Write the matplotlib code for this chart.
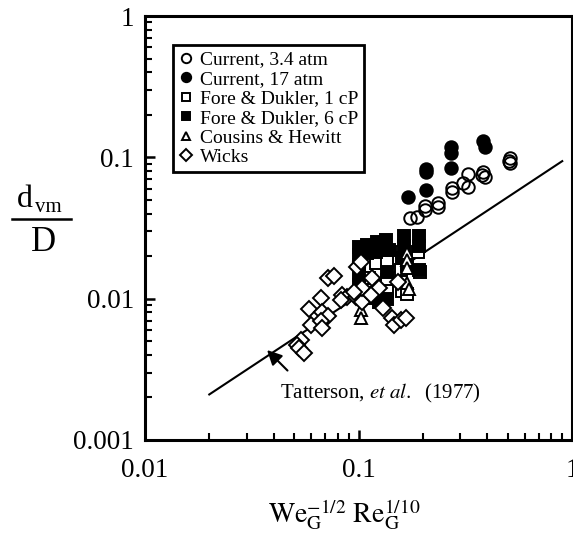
import matplotlib
matplotlib.use("Agg")
import matplotlib.pyplot as plt

plt.rcParams["font.family"] = ["Liberation Serif", "DejaVu Serif"]
plt.rcParams["mathtext.fontset"] = "stix"

# Current, 3.4 atm (open circles)
cur34_x = [0.174, 0.1875, 0.204, 0.204, 0.235, 0.235, 0.273, 0.273, 0.310,
           0.327, 0.327, 0.380, 0.393, 0.385, 0.514, 0.514, 0.505]
cur34_y = [0.0372, 0.0378, 0.0452, 0.0424, 0.0475, 0.0445, 0.0568, 0.0607, 0.0658,
           0.0762, 0.0616, 0.0749, 0.0726, 0.0787, 0.0989, 0.0912, 0.094]

# Current, 17 atm (filled circles)
cur17_x = [0.170, 0.208, 0.208, 0.208, 0.272, 0.272, 0.270, 0.385, 0.390]
cur17_y = [0.0524, 0.0826, 0.0787, 0.0587, 0.118, 0.107, 0.084, 0.130, 0.118]

# Fore & Dukler, 1 cP (open squares)
fd1_x = [0.121, 0.136, 0.136, 0.136, 0.121, 0.158, 0.160, 0.168, 0.195, 0.160, 0.189, 0.112]
fd1_y = [0.0179, 0.0182, 0.0135, 0.0113, 0.0110, 0.0159, 0.0113, 0.0108, 0.0154, 0.0214, 0.0214, 0.0140]

# Fore & Dukler, 6 cP (filled squares)
fd6_x = [0.100, 0.100, 0.110, 0.110, 0.122, 0.121, 0.134, 0.139, 0.163, 0.163, 0.191,
         0.191, 0.136, 0.191, 0.168, 0.100, 0.100, 0.110, 0.125, 0.136, 0.160, 0.100]
fd6_y = [0.0232, 0.0204, 0.0240, 0.0210, 0.0252, 0.0214, 0.0260, 0.0221, 0.0277, 0.0236, 0.0277,
         0.0236, 0.0154, 0.0159, 0.0170, 0.0147, 0.0125, 0.0101, 0.00946, 0.00993, 0.0194, 0.0173]

# Cousins & Hewitt (open triangles)
ch_x = [0.168, 0.168, 0.168, 0.168, 0.172, 0.103, 0.103]
ch_y = [0.0210, 0.0188, 0.0165, 0.0129, 0.0117, 0.0083, 0.0073]

# Wicks (open diamonds)
wicks_x = [0.0721, 0.0769, 0.0668, 0.0587, 0.0676, 0.0721, 0.0601, 0.0668, 0.0676,
           0.0838, 0.0883, 0.0828, 0.0972, 0.1038, 0.0984, 0.1028, 0.1156, 0.1038,
           0.1247, 0.1143, 0.130, 0.143, 0.1466, 0.158, 0.1663, 0.1527, 0.0540,
           0.0516, 0.0528, 0.0557, 0.0953]
wicks_y = [0.0140, 0.0145, 0.0101, 0.00844, 0.00804, 0.00753, 0.00650, 0.00694, 0.00619,
           0.0106, 0.0103, 0.00977, 0.0103, 0.00946, 0.0167, 0.0182, 0.0140, 0.0119,
           0.0119, 0.0106, 0.00857, 0.00729, 0.00650, 0.00706, 0.00729, 0.0131, 0.00509,
           0.00470, 0.00447, 0.00412, 0.0111]

# Tatterson et al. (1977) correlation
tat_x = [0.02, 0.9]
tat_y = [0.0021, 0.094]

fig = plt.figure(figsize=(5.73, 5.44), dpi=100)
ax = fig.add_axes([145 / 573, 1 - 440 / 544, 427 / 573, 424 / 544])
ax.set_xscale("log")
ax.set_yscale("log")
ax.set_xlim(0.01, 1)
ax.set_ylim(0.001, 1)

ax.plot(tat_x, tat_y, color="black", linewidth=1.5, zorder=1)

mk = dict(linestyle="none", markeredgecolor="black", markeredgewidth=1.4, zorder=3)
ax.plot(cur34_x, cur34_y, marker="o", markersize=9, markerfacecolor="none",
        label="Current, 3.4 atm", **mk)
ax.plot(cur17_x, cur17_y, marker="o", markersize=9, markerfacecolor="black",
        label="Current, 17 atm", **mk)
ax.plot(fd1_x, fd1_y, marker="s", markersize=8.5, markerfacecolor="white",
        label="Fore & Dukler, 1 cP", **mk)
ax.plot(fd6_x, fd6_y, marker="s", markersize=8.5, markerfacecolor="black",
        label="Fore & Dukler, 6 cP", **mk)
ax.plot(ch_x, ch_y, marker="^", markersize=8.5, markerfacecolor="white",
        label="Cousins & Hewitt", **mk)
ax.plot(wicks_x, wicks_y, marker="D", markersize=8, markerfacecolor="white",
        label="Wicks", **mk)

ax.annotate("", xy=(0.0373, 0.00433), xytext=(0.0465, 0.0031),
            arrowprops=dict(arrowstyle="-|>", color="black", lw=1.5,
                            mutation_scale=22, shrinkA=0, shrinkB=0))
ax.text(0.043, 0.00215, r"Tatterson, $\it{et\ al.}$  (1977)", fontsize=15,
        va="center", ha="left")

for side in ax.spines.values():
    side.set_linewidth(2.2)
ax.tick_params(which="major", direction="in", length=7, width=1.8,
               labelsize=19.5, top=False, right=False)
ax.tick_params(which="minor", direction="in", length=5, width=1.5,
               top=False, right=False)
ax.tick_params(axis="x", which="major", pad=13)
ax.tick_params(axis="y", which="major", pad=8)
ax.set_xticks([0.01, 0.1, 1])
ax.set_xticklabels(["0.01", "0.1", "1"])
ax.set_yticks([0.001, 0.01, 0.1, 1])
ax.set_yticklabels(["0.001", "0.01", "0.1", "1"])

leg = ax.legend(loc="upper left", bbox_to_anchor=(0.0656, 0.9316), borderaxespad=0,
                fontsize=14, handlelength=0.7, handletextpad=0.4, labelspacing=0.1,
                borderpad=0.3, fancybox=False, framealpha=1, edgecolor="black",
                markerscale=0.75)
leg.get_frame().set_linewidth(2)

# axis labels
fig.text(344 / 573, 1 - 523 / 544,
         r"$\mathrm{We}_{\mathrm{G}}^{-1/2}\ \mathrm{Re}_{\mathrm{G}}^{1/10}$",
         fontsize=20, ha="center", va="baseline")
fig.text(17 / 573, 1 - 207 / 544, "d", fontsize=23, ha="left", va="baseline")
fig.text(35 / 573, 1 - 212 / 544, "vm", fontsize=15, ha="left", va="baseline")
fig.add_artist(plt.Line2D([12 / 573, 71 / 573], [1 - 219 / 544, 1 - 219 / 544],
                          color="black", linewidth=1.8))
fig.text(44 / 573, 1 - 251 / 544, "D", fontsize=25, ha="center", va="baseline")

fig.savefig("out.png", dpi=100)
